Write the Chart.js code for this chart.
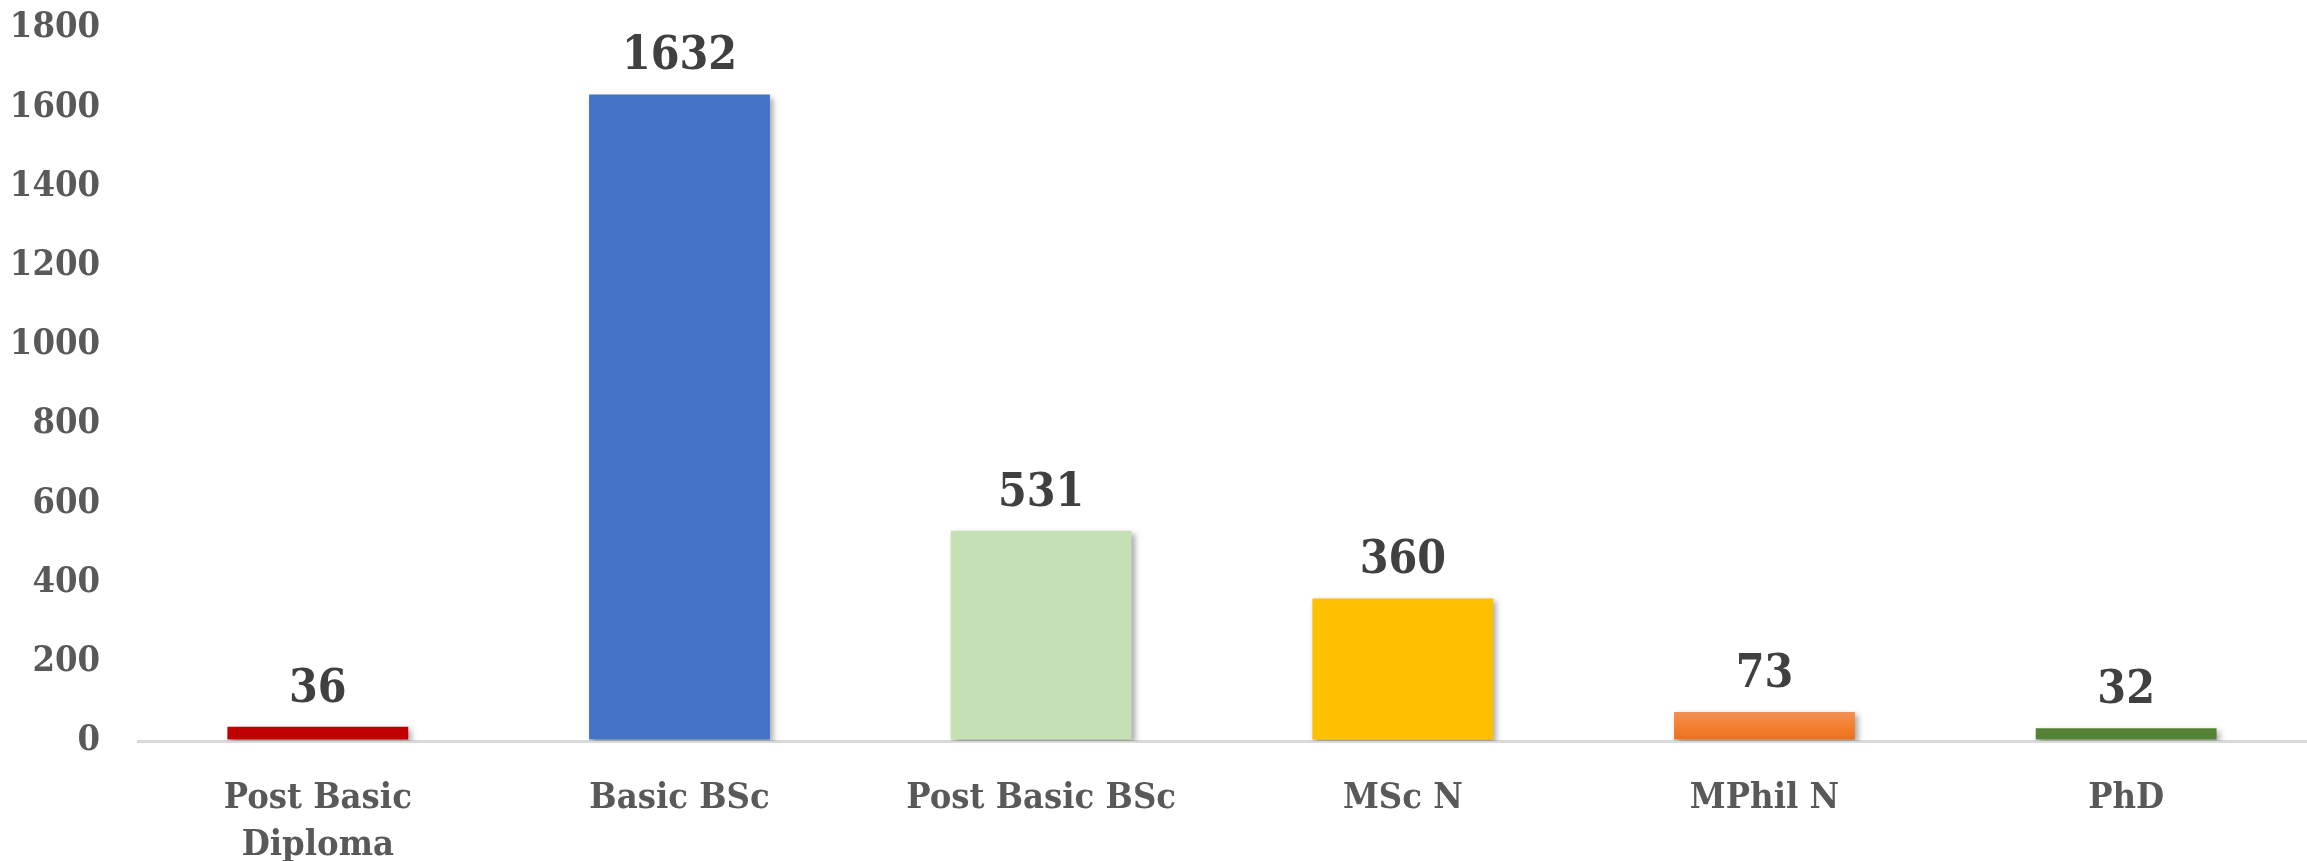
<!DOCTYPE html>
<html lang="en">
<head>
  <meta charset="UTF-8">
  <title>Programme enrolment</title>
  <script src="https://cdn.jsdelivr.net/npm/chart.js"></script>
  <style>
    html, body { margin: 0; padding: 0; background: #ffffff; overflow: hidden; }
    .box { width: 2307px; height: 861px; position: relative; }
  </style>
</head>
<body>
<div class="box">
  <canvas id="barra"></canvas>
</div>
<script>
// dados do gráfico
var categorias = [['Post Basic', 'Diploma'], 'Basic BSc', 'Post Basic BSc', 'MSc N', 'MPhil N', 'PhD'];
var valores = [36, 1632, 531, 360, 73, 32];
var cores = ['#C00000', '#4472C4', '#C5E0B4', '#FFC000', '#ED7D31', '#548235'];
var eixoMax = 1800;
var eixoPasso = 200;

var fonte = "'DejaVu Serif Condensed', 'DejaVu Serif', serif";

// rótulos em cima das barras
var rotulosPlugin = {
  id: 'rotulos',
  afterDatasetsDraw: function(chart) {
    var ctx = chart.ctx;
    var meta = chart.getDatasetMeta(0);
    ctx.save();
    ctx.font = 'bold 46px ' + fonte;
    ctx.fillStyle = '#404040';
    ctx.textAlign = 'center';
    ctx.textBaseline = 'bottom';
    meta.data.forEach(function(bar, i) {
      ctx.fillText(String(valores[i]), bar.x, bar.y - 14);
    });
    ctx.restore();
  }
};

// sombra leve nas barras
var sombraPlugin = {
  id: 'sombra',
  beforeDatasetsDraw: function(chart) {
    var ctx = chart.ctx;
    ctx.save();
    ctx.shadowColor = 'rgba(0,0,0,0.35)';
    ctx.shadowBlur = 6;
    ctx.shadowOffsetX = 3;
    ctx.shadowOffsetY = 3;
  },
  afterDatasetsDraw: function(chart) {
    chart.ctx.restore();
  }
};

function corBarra(context) {
  var i = context.dataIndex;
  if (i === 4) {
    var chart = context.chart;
    var area = chart.chartArea;
    var escala = chart.scales.y;
    if (!area || !escala) return cores[i];
    var topo = escala.getPixelForValue(valores[i]);
    if (!isFinite(topo) || !isFinite(area.bottom)) return cores[i];
    var g = chart.ctx.createLinearGradient(0, topo, 0, area.bottom);
    g.addColorStop(0, '#F19156');
    g.addColorStop(0.5, '#F47F2E');
    g.addColorStop(1, '#EA6E1E');
    return g;
  }
  return cores[i];
}

var ctx = document.getElementById('barra').getContext('2d');
var myChart = new Chart(ctx, {
  type: 'bar',
  data: {
    labels: categorias,
    datasets: [{
      data: valores,
      backgroundColor: corBarra,
      borderWidth: 0,
      barPercentage: 0.5,
      categoryPercentage: 1.0
    }]
  },
  options: {
    responsive: true,
    maintainAspectRatio: false,
    animation: false,
    layout: { padding: { top: 28, right: 0, bottom: 0, left: 0 } },
    plugins: {
      legend: { display: false },
      tooltip: { enabled: false }
    },
    scales: {
      x: {
        grid: { display: false },
        border: { display: false },
        ticks: {
          color: '#595959',
          font: { family: fonte, size: 36, weight: 'bold', lineHeight: 1.3 },
          padding: 26,
          maxRotation: 0,
          autoSkip: false
        },
        afterFit: function(axis) { axis.height = 120; }
      },
      y: {
        min: 0,
        max: eixoMax,
        grid: {
          drawTicks: true,
          tickLength: 37,
          tickColor: 'rgba(0,0,0,0)',
          lineWidth: 3,
          color: function(c) { return c.tick && c.tick.value === 0 ? '#D9D9D9' : 'rgba(0,0,0,0)'; }
        },
        border: { display: false },
        ticks: {
          stepSize: eixoPasso,
          color: '#595959',
          font: { family: fonte, size: 36, weight: 'bold' },
          padding: 0,
          callback: function(v) { return String(v); }
        },
        afterFit: function(axis) { axis.width = 137; }
      }
    }
  },
  plugins: [sombraPlugin, rotulosPlugin]
});
</script>
</body>
</html>
